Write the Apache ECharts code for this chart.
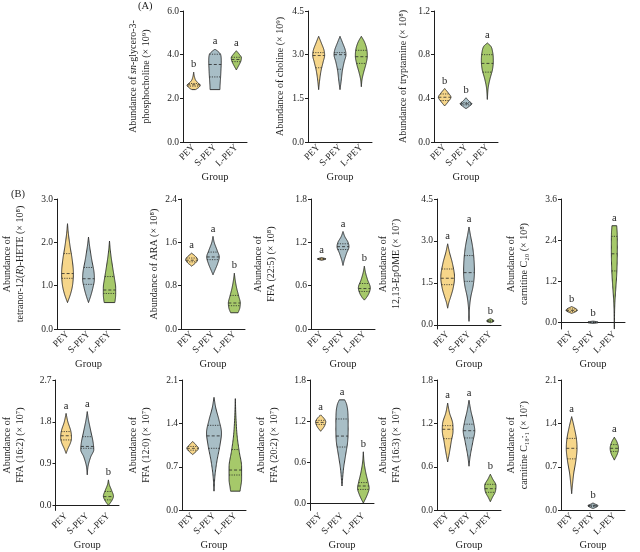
<!DOCTYPE html>
<html><head><meta charset="utf-8">
<script src="https://cdn.jsdelivr.net/npm/echarts@6/dist/echarts.min.js"></script>
<style>html,body{margin:0;padding:0;background:#fff}#c{width:640px;height:552px}</style>
</head><body><div id="c"></div>
<script>
// ---------- DATA ----------
const groups = ['PEY', 'S-PEY', 'L-PEY'];
// violin profiles: [value, relative density width], quartiles: [q1, median, q3], letters

const gpcShape = [
  [[3.2,0],[3.0,0.12],[2.8,0.4],[2.68,0.85],[2.6,1.1],[2.5,0.85],[2.43,0.5],[2.4,0.3]],
  [[4.25,0],[4.15,0.5],[4.0,0.95],[3.7,1.05],[3.3,1.0],[2.9,0.92],[2.6,0.85],[2.4,0.82]],
  [[4.18,0],[4.05,0.4],[3.85,0.85],[3.7,0.75],[3.5,0.4],[3.3,0]]
];
const gpcQuart = [[2.56,2.62,2.68],[2.98,3.55,4.02],[3.68,3.78,3.88]];
const gpcLetters = ['b','a','a'];

const cholineShape = [
  [[3.63,0],[3.4,0.45],[3.15,0.9],[2.98,1],[2.75,0.75],[2.45,0.4],[2.1,0.15],[1.8,0]],
  [[3.63,0],[3.4,0.45],[3.15,0.9],[3.0,1],[2.75,0.7],[2.45,0.4],[2.1,0.2],[1.8,0]],
  [[3.63,0],[3.45,0.5],[3.2,0.9],[2.95,1],[2.7,0.8],[2.4,0.4],[2.15,0.12],[1.9,0]]
];
const cholineQuart = [[2.55,2.97,3.07],[2.5,3.0,3.07],[2.7,2.93,3.15]];
const cholineLetters = ['','',''];

const tryptShape = [
  [[0.49,0],[0.45,0.6],[0.41,1.05],[0.37,0.6],[0.33,0]],
  [[0.405,0],[0.375,0.5],[0.35,0.97],[0.325,0.5],[0.305,0]],
  [[0.907,0],[0.88,0.55],[0.82,0.9],[0.74,1.0],[0.66,0.85],[0.58,0.45],[0.5,0.15],[0.39,0]]
];
const tryptQuart = [[0.38,0.41,0.44],[0.34,0.35,0.36],[0.64,0.72,0.8]];
const tryptLetters = ['b','b','a'];

const heteShape = [
  [[2.43,0],[2.2,0.15],[1.9,0.45],[1.6,0.8],[1.3,1],[1.0,0.85],[0.8,0.5],[0.61,0]],
  [[2.12,0],[1.9,0.2],[1.6,0.55],[1.3,0.95],[1.15,1],[0.95,0.75],[0.75,0.35],[0.61,0]],
  [[2.03,0],[1.8,0.15],[1.5,0.45],[1.2,0.8],[0.95,1.05],[0.8,1.05],[0.65,0.95],[0.61,0.9]]
];
const heteQuart = [[1.17,1.28,1.74],[1.03,1.16,1.42],[0.82,0.9,1.21]];
const heteLetters = ['','',''];

const araShape = [
  [[1.40,0],[1.34,0.65],[1.28,1],[1.22,0.65],[1.16,0]],
  [[1.71,0],[1.6,0.2],[1.45,0.7],[1.33,1.05],[1.2,0.75],[1.08,0.3],[1.0,0]],
  [[1.03,0],[0.9,0.15],[0.75,0.4],[0.6,0.75],[0.48,1],[0.38,0.9],[0.32,0.7],[0.3,0.62]]
];
const araQuart = [[1.24,1.27,1.31],[1.28,1.33,1.42],[0.43,0.48,0.62]];
const araLetters = ['a','a','b'];

const ffa225Shape = [
  [[0.99,0],[0.978,0.5],[0.97,0.7],[0.962,0.5],[0.95,0]],
  [[1.35,0],[1.28,0.3],[1.2,0.85],[1.14,1],[1.05,0.6],[0.95,0.2],[0.88,0]],
  [[0.87,0],[0.78,0.2],[0.68,0.55],[0.57,1],[0.5,0.8],[0.44,0.4],[0.4,0]]
];
const ffa225Quart = [[0.966,0.97,0.974],[1.1,1.14,1.18],[0.52,0.56,0.63]];
const ffa225Letters = ['a','a','b'];

const epomeShape = [
  [[2.9,0],[2.6,0.3],[2.2,0.8],[1.7,1.15],[1.3,0.9],[1.0,0.5],[0.8,0.2],[0.6,0]],
  [[3.5,0],[3.2,0.25],[2.8,0.6],[2.3,0.85],[1.85,0.9],[1.4,0.7],[1.0,0.3],[0.6,0.08],[0.13,0]],
  [[0.23,0],[0.18,0.45],[0.14,0.6],[0.11,0.4],[0.08,0]]
];
const epomeQuart = [[1.44,1.67,2.0],[1.56,1.87,2.48],[0.12,0.14,0.17]];
const epomeLetters = ['a','a','b'];

const carC20Shape = [
  [[0.46,0],[0.41,0.6],[0.35,0.95],[0.3,0.55],[0.26,0]],
  [[0.035,0],[0.015,0.75],[0.0,0.85],[-0.015,0.75],[-0.035,0]],
  [[2.82,0.4],[2.6,0.48],[2.2,0.5],[1.8,0.48],[1.4,0.4],[1.0,0.25],[0.6,0.1],[0.3,0.04],[-0.19,0.02]]
];
const carC20Quart = [[0.32,0.35,0.39],[-0.005,0.0,0.005],[1.5,2.0,2.51]];
const carC20Letters = ['b','b','a'];

const ffa162Shape = [
  [[1.98,0],[1.8,0.3],[1.6,0.8],[1.45,0.92],[1.35,0.75],[1.22,0.3],[1.12,0]],
  [[2.02,0],[1.85,0.2],[1.6,0.6],[1.35,1.0],[1.2,1.1],[1.05,0.6],[0.85,0.15],[0.66,0]],
  [[0.55,0],[0.45,0.15],[0.32,0.55],[0.2,0.85],[0.1,0.55],[0.0,0]]
];
const ffa162Quart = [[1.41,1.5,1.59],[1.23,1.27,1.48],[0.12,0.19,0.3]];
const ffa162Letters = ['a','a','b'];

const ffa120Shape = [
  [[1.11,0],[1.05,0.6],[1.0,0.97],[0.95,0.6],[0.9,0]],
  [[1.82,0],[1.65,0.3],[1.45,0.85],[1.25,1.25],[1.05,1.0],[0.8,0.5],[0.55,0.15],[0.31,0]],
  [[1.8,0],[1.5,0.1],[1.2,0.3],[0.95,0.65],[0.7,1.05],[0.5,1.05],[0.35,0.85],[0.31,0.8]]
];
const ffa120Quart = [[0.97,1.0,1.03],[1.0,1.2,1.37],[0.57,0.65,0.98]];
const ffa120Letters = ['','',''];

const ffa202Shape = [
  [[1.29,0],[1.24,0.55],[1.19,0.85],[1.12,0.6],[1.05,0]],
  [[1.51,0.45],[1.45,0.75],[1.3,1.0],[1.1,1.03],[0.9,0.95],[0.7,0.6],[0.5,0.25],[0.25,0]],
  [[0.75,0],[0.6,0.12],[0.45,0.4],[0.3,0.8],[0.22,0.97],[0.12,0.65],[0.0,0]]
];
const ffa202Quart = [[1.15,1.18,1.21],[0.82,0.98,1.23],[0.2,0.25,0.3]];
const ffa202Letters = ['a','a','b'];

const ffa163Shape = [
  [[1.48,0],[1.35,0.3],[1.2,0.85],[1.1,0.9],[0.95,0.6],[0.8,0.3],[0.67,0]],
  [[1.52,0],[1.38,0.3],[1.2,0.8],[1.1,0.97],[0.95,0.65],[0.75,0.2],[0.61,0]],
  [[0.5,0],[0.44,0.35],[0.34,0.95],[0.25,0.8],[0.18,0.35],[0.12,0]]
];
const ffa163Quart = [[0.99,1.12,1.17],[1.0,1.1,1.19],[0.25,0.3,0.36]];
const ffa163Letters = ['a','a','b'];

const carC181Shape = [
  [[1.51,0],[1.35,0.4],[1.15,0.8],[1.0,0.9],[0.8,0.7],[0.6,0.35],[0.4,0.12],[0.27,0]],
  [[0.12,0],[0.095,0.5],[0.075,0.85],[0.05,0.5],[0.03,0]],
  [[1.18,0],[1.1,0.45],[1.0,0.7],[0.92,0.55],[0.81,0]]
];
const carC181Quart = [[0.83,1.0,1.16],[0.065,0.075,0.085],[0.95,1.0,1.06]];
const carC181Letters = ['a','b','a'];

// ---------- LAYOUT ----------
const SERIF = '"Liberation Serif", "Times New Roman", serif';
const FILLS = ['#F6D68A', '#A8BEC6', '#A6C96A'];
const INK = '#1e1e1e';

const panels = [
  {left:183, top:11, h:131, min:0, max:6.0, ticks:[0,2,4,6], name:'Abundance of {i|sn}-glycero-3-\nphosphocholine (× 10⁹)', gap:30.5, xgap:27, s:gpcShape, q:gpcQuart, l:gpcLetters},
  {left:308, top:11, h:131, min:0, max:4.5, ticks:[0,1.5,3,4.5], name:'Abundance of choline (× 10⁹)', gap:21, xgap:27, s:cholineShape, q:cholineQuart, l:cholineLetters},
  {left:434, top:11, h:131, min:0, max:1.2, ticks:[0,0.4,0.8,1.2], name:'Abundance of tryptamine (× 10⁸)', gap:24, xgap:27, s:tryptShape, q:tryptQuart, l:tryptLetters},

  {left:56, top:199, h:130, min:0, max:3.0, ticks:[0,1,2,3], name:'Abundance of\ntetranor-12({i|R})-HETE (× 10⁸)', gap:30, xgap:30, s:heteShape, q:heteQuart, l:heteLetters},
  {left:181, top:199, h:130, min:0, max:2.4, ticks:[0,0.8,1.6,2.4], name:'Abundance of ARA (× 10⁸)', gap:17.5, xgap:30, s:araShape, q:araQuart, l:araLetters},
  {left:311, top:199, h:130, min:0, max:1.8, ticks:[0,0.6,1.2,1.8], name:'Abundance of\nFFA (22:5) (× 10⁸)', gap:33, xgap:30, s:ffa225Shape, q:ffa225Quart, l:ffa225Letters},
  {left:437, top:199, h:130, min:-0.143, max:4.5, ticks:[0,1.5,3,4.5], name:'Abundance of\n12,13-EpOME (× 10⁷)', gap:34, xgap:30, s:epomeShape, q:epomeQuart, l:epomeLetters},
  {left:561, top:199, h:130, min:-0.195, max:3.6, ticks:[0,1.2,2.4,3.6], name:'Abundance of\ncarnitine C₂₀ (× 10⁸)', gap:30, xgap:30, s:carC20Shape, q:carC20Quart, l:carC20Letters},

  {left:55, top:380, h:131, min:-0.107, max:2.7, ticks:[0,0.9,1.8,2.7], name:'Abundance of\nFFA (16:2) (× 10⁷)', gap:28.5, xgap:26, s:ffa162Shape, q:ffa162Quart, l:ffa162Letters},
  {left:182, top:380, h:131, min:0, max:2.1, ticks:[0,0.7,1.4,2.1], name:'Abundance of\nFFA (12:0) (× 10⁷)', gap:29, xgap:26, s:ffa120Shape, q:ffa120Quart, l:ffa120Letters},
  {left:310, top:380, h:131, min:-0.107, max:1.8, ticks:[0,0.6,1.2,1.8], name:'Abundance of\nFFA (20:2) (× 10⁷)', gap:29, xgap:26, s:ffa202Shape, q:ffa202Quart, l:ffa202Letters},
  {left:437, top:380, h:131, min:0, max:1.8, ticks:[0,0.6,1.2,1.8], name:'Abundance of\nFFA (16:3) (× 10⁷)', gap:34, xgap:26, s:ffa163Shape, q:ffa163Quart, l:ffa163Letters},
  {left:561, top:380, h:131, min:0, max:2.1, ticks:[0,0.7,1.4,2.1], name:'Abundance of\ncarnitine C₁₈:₁ (× 10⁷)', gap:30, xgap:26, s:carC181Shape, q:carC181Quart, l:carC181Letters}
];

// monotone cubic densification of a violin outline (rendering only)
function densify(p) {
  const a = p.slice().sort((x, y) => x[0] - y[0]);
  const n = a.length;
  if (n < 3) return a;
  const xs = a.map(d => d[0]), ys = a.map(d => d[1]);
  const dx = [], m = [];
  for (let k = 0; k < n - 1; k++) { dx.push(xs[k+1] - xs[k]); m.push((ys[k+1] - ys[k]) / dx[k]); }
  const t = [m[0]];
  for (let k = 1; k < n - 1; k++) t.push(m[k-1] * m[k] <= 0 ? 0 : (m[k-1] + m[k]) / 2);
  t.push(m[n-2]);
  for (let k = 0; k < n - 1; k++) {
    if (m[k] === 0) { t[k] = 0; t[k+1] = 0; continue; }
    const a1 = t[k] / m[k], b1 = t[k+1] / m[k], s = a1*a1 + b1*b1;
    if (s > 9) { const tau = 3 / Math.sqrt(s); t[k] = tau * a1 * m[k]; t[k+1] = tau * b1 * m[k]; }
  }
  const out = [];
  for (let k = 0; k < n - 1; k++) {
    const h = dx[k];
    for (let j = 0; j < 12; j++) {
      const u = j / 12, u2 = u*u, u3 = u2*u;
      const w = (2*u3 - 3*u2 + 1) * ys[k] + (u3 - 2*u2 + u) * h * t[k] + (-2*u3 + 3*u2) * ys[k+1] + (u3 - u2) * h * t[k+1];
      out.push([xs[k] + u * h, Math.max(0, w)]);
    }
  }
  out.push(a[n-1]);
  return out;
}
function widthAt(pts, v) {
  for (let k = 0; k < pts.length - 1; k++) {
    if (v >= pts[k][0] && v <= pts[k+1][0]) {
      const f = (v - pts[k][0]) / ((pts[k+1][0] - pts[k][0]) || 1);
      return pts[k][1] + f * (pts[k+1][1] - pts[k][1]);
    }
  }
  return 0;
}

function makeRenderer(shapes, quarts, letters) {
  return function (params, api) {
    const i = api.value(0);
    const pts = densify(shapes[i]);
    const band = api.size([1, 0])[0];
    const unit = band * 0.28;
    const cx = api.coord([i, 0])[0];
    const left = [], right = [];
    pts.forEach(([v, w]) => {
      const y = api.coord([i, v])[1];
      left.push([cx - w * unit, y]);
      right.push([cx + w * unit, y]);
    });
    const poly = left.concat(right.slice().reverse());
    const children = [{
      type: 'polygon', shape: { points: poly },
      style: { fill: FILLS[i], stroke: '#262626', lineWidth: 0.9 }
    }];
    quarts[i].forEach((v, k) => {
      const hw = widthAt(pts, v) * unit;
      const y = api.coord([i, v])[1];
      children.push({
        type: 'line', shape: { x1: cx - hw, y1: y, x2: cx + hw, y2: y },
        style: { stroke: '#262626', lineWidth: 0.8, lineDash: k === 1 ? [3, 2] : [1.2, 1.2] }
      });
    });
    if (letters[i]) {
      const topV = Math.max(...shapes[i].map(d => d[0]));
      const ty = api.coord([i, topV])[1];
      children.push({
        type: 'text',
        style: { text: letters[i], x: cx, y: ty - 2, align: 'center', verticalAlign: 'bottom',
                 fontSize: 10.5, fontFamily: SERIF, fill: INK }
      });
    }
    return { type: 'group', children };
  };
}

const grids = [], xAxes = [], yAxes = [], series = [];
panels.forEach((p, k) => {
  grids.push({ left: p.left, top: p.top, width: 64, height: p.h });
  xAxes.push({
    gridIndex: k, type: 'category', data: groups,
    axisLine: { lineStyle: { color: INK, width: 1 } },
    axisTick: { alignWithLabel: true, length: 3, lineStyle: { color: INK } },
    axisLabel: { rotate: 45, fontSize: 9.5, fontFamily: SERIF, color: INK, margin: 4, interval: 0 },
    name: 'Group', nameLocation: 'middle', nameGap: p.xgap,
    nameTextStyle: { fontSize: 10.5, fontFamily: SERIF, color: INK }
  });
  yAxes.push({
    gridIndex: k, type: 'value', min: p.min, max: p.max,
    axisLine: { show: true, lineStyle: { color: INK, width: 1 } },
    axisTick: { show: true, length: 3, customValues: p.ticks, lineStyle: { color: INK } },
    axisLabel: { customValues: p.ticks, formatter: v => Number(v).toFixed(1), fontSize: 9.5, fontFamily: SERIF, color: INK, margin: 4 },
    splitLine: { show: false },
    name: p.name, nameLocation: 'middle', nameGap: p.gap, nameRotate: 90,
    nameTextStyle: { fontSize: 10, fontFamily: SERIF, color: INK, lineHeight: 13, align: 'center',
      rich: { i: { fontStyle: 'italic', fontSize: 10, fontFamily: SERIF, color: INK, lineHeight: 13 } } }
  });
  series.push({
    type: 'custom', xAxisIndex: k, yAxisIndex: k,
    renderItem: makeRenderer(p.s, p.q, p.l),
    data: groups.map((g, i) => [i]),
    encode: { x: 0 }, clip: false, silent: true
  });
});

const chart = echarts.init(document.getElementById('c'), null, { renderer: 'canvas' });
chart.setOption({
  animation: false,
  backgroundColor: '#fff',
  grid: grids, xAxis: xAxes, yAxis: yAxes, series,
  graphic: [
    { type: 'text', left: 138, top: 1, style: { text: '(A)', fontSize: 10.5, fontFamily: SERIF, fill: INK } },
    { type: 'text', left: 11, top: 189, style: { text: '(B)', fontSize: 10.5, fontFamily: SERIF, fill: INK } }
  ]
});
</script>
</body></html>
